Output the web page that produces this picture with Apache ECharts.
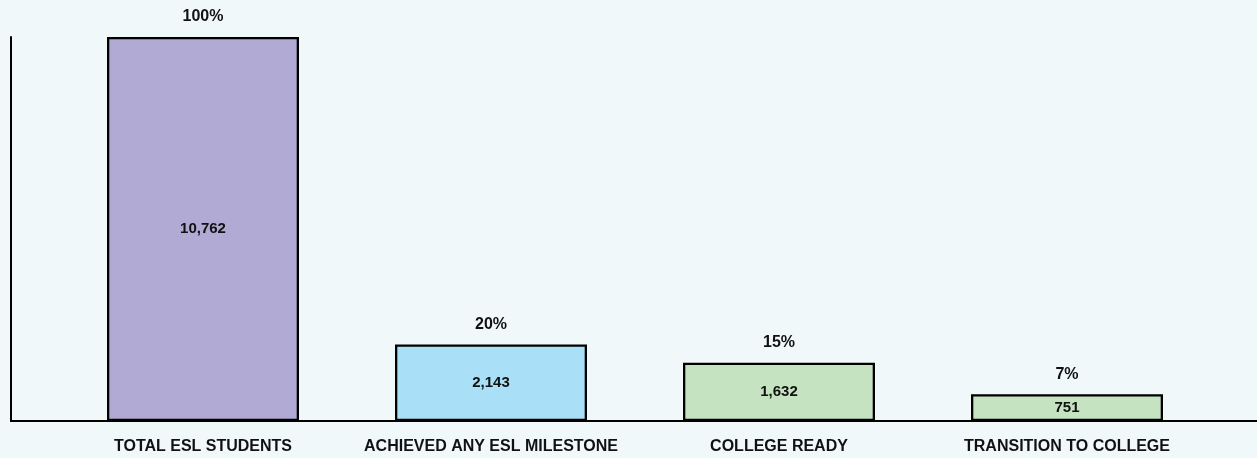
<!DOCTYPE html>
<html>
<head>
<meta charset="utf-8">
<script src="https://cdn.jsdelivr.net/npm/echarts@6/dist/echarts.min.js"></script>
<style>
html,body{margin:0;padding:0;background:#f0f8fa;}
#chart{width:1257px;height:458px;}
</style>
</head>
<body>
<div id="chart"></div>
<script>
var categories = ['TOTAL ESL STUDENTS', 'ACHIEVED ANY ESL MILESTONE', 'COLLEGE READY', 'TRANSITION TO COLLEGE'];
var studentCounts = [10762, 2143, 1632, 751];
var percentLabels = ['100%', '20%', '15%', '7%'];
var barColors = ['#b0aad4', '#aadff8', '#c5e3c0', '#c5e3c0'];

var FONT = '"Liberation Sans", Arial, Helvetica, sans-serif';
var chart = echarts.init(document.getElementById('chart'), null, {renderer: 'canvas'});

var yMax = Math.max.apply(null, studentCounts);

var option = {
  backgroundColor: '#f0f8fa',
  animation: false,
  textStyle: {fontFamily: FONT},
  grid: [
    {left: 59, right: 46, top: 37, bottom: 37},
    {left: 11, right: 0, top: 37, bottom: 37}
  ],
  xAxis: [
    {
      type: 'category', gridIndex: 0, data: categories,
      axisLine: {show: false}, axisTick: {show: false},
      axisLabel: {color: '#111', fontWeight: 'bold', fontSize: 16, fontFamily: FONT, margin: 18, interval: 0}
    },
    {
      type: 'value', gridIndex: 1, min: 0, max: 1,
      axisLine: {show: true, lineStyle: {color: '#000', width: 2}},
      axisTick: {show: false}, axisLabel: {show: false}, splitLine: {show: false}
    }
  ],
  yAxis: [
    {
      type: 'value', gridIndex: 0, min: 0, max: yMax,
      axisLine: {show: false}, axisTick: {show: false}, axisLabel: {show: false}, splitLine: {show: false}
    },
    {
      type: 'value', gridIndex: 1, min: 0, max: 1,
      axisLine: {show: true, lineStyle: {color: '#000', width: 2}},
      axisTick: {show: false}, axisLabel: {show: false}, splitLine: {show: false}
    }
  ],
  series: [
    {
      type: 'bar', xAxisIndex: 0, yAxisIndex: 0,
      barWidth: 192,
      data: studentCounts.map(function (v, i) {
        return {value: v, itemStyle: {color: barColors[i]}};
      }),
      itemStyle: {borderColor: '#000', borderWidth: 2.3},
      label: {
        show: true, position: 'inside', color: '#111', fontWeight: 'bold', fontSize: 15, fontFamily: FONT,
        formatter: function (p) { return echarts.format.addCommas(p.value); }
      },
      silent: true
    },
    {
      type: 'bar', xAxisIndex: 0, yAxisIndex: 0,
      barWidth: 192, barGap: '-100%',
      data: studentCounts,
      itemStyle: {color: 'rgba(0,0,0,0)', borderWidth: 0},
      label: {
        show: true, position: 'top', distance: 12, color: '#111', fontWeight: 'bold', fontSize: 16, fontFamily: FONT,
        formatter: function (p) { return percentLabels[p.dataIndex]; }
      },
      silent: true
    }
  ]
};
chart.setOption(option);
</script>
</body>
</html>
